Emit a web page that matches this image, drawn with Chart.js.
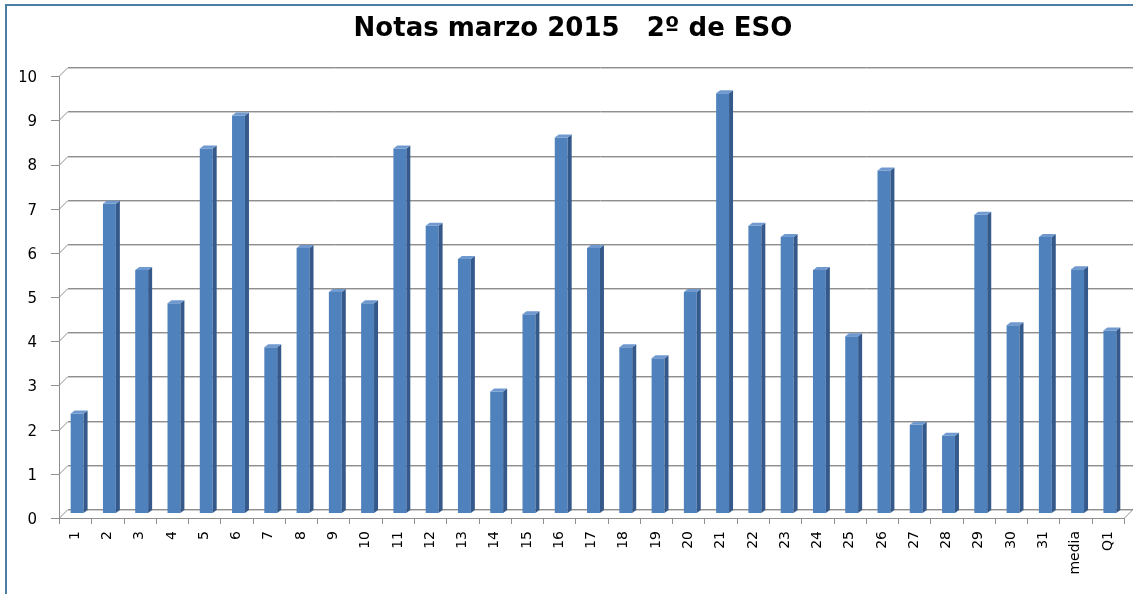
<!DOCTYPE html>
<html lang="es">
<head>
<meta charset="UTF-8">
<title>Notas marzo 2015</title>
<script src="https://cdn.jsdelivr.net/npm/chart.js@4.4.1/dist/chart.umd.min.js"></script>
<style>
  body { margin: 0; background: #fff; }
</style>
</head>
<body>
<canvas id="chart" width="1133" height="594"></canvas>
<script>
// datos
const alumnos = ["1", "2", "3", "4", "5", "6", "7", "8", "9", "10",
  "11", "12", "13", "14", "15", "16", "17", "18", "19", "20",
  "21", "22", "23", "24", "25", "26", "27", "28", "29", "30", "31", "media", "Q1"];
const notas = [2.25, 7, 5.5, 4.75, 8.25, 9, 3.75, 6, 5, 4.75,
  8.25, 6.5, 5.75, 2.75, 4.5, 8.5, 6, 3.75, 3.5, 5,
  9.5, 6.5, 6.25, 5.5, 4, 7.75, 2, 1.75, 6.75, 4.25, 6.25, 5.52, 4.13];
const marcas = [0, 1, 2, 3, 4, 5, 6, 7, 8, 9, 10];

const azul = "#4f81bd";
const azulLado = "#35598a";
const azulTapa = "#6f99cf";

// pared del fondo y suelo con aspecto 3D (como el grafico de Excel)
const marco3d = {
  id: "marco3d",
  beforeDatasetsDraw(chart) {
    const { ctx, scales: { x, y } } = chart;
    const n = alumnos.length;
    const xl = x.getPixelForValue(-0.5), xr = x.getPixelForValue(n - 0.5);
    ctx.save();
    ctx.lineWidth = 1;
    // lineas de la pared del fondo
    marcas.forEach((v) => {
      const py = Math.round(y.getPixelForValue(v)) - 4;
      ctx.strokeStyle = "#8f8f8f";
      ctx.beginPath(); ctx.moveTo(xl + 7, py + 0.5); ctx.lineTo(xr + 7, py + 0.5); ctx.stroke();
      ctx.strokeStyle = "#cdcdcd";
      ctx.beginPath(); ctx.moveTo(xl + 7, py + 1.5); ctx.lineTo(xr + 7, py + 1.5); ctx.stroke();
      // diagonal y marca del eje frontal
      ctx.strokeStyle = "#8f8f8f";
      ctx.beginPath();
      ctx.moveTo(xl - 10, py + 9.5); ctx.lineTo(xl - 2, py + 9.5); ctx.lineTo(xl + 7, py + 0.5);
      ctx.stroke();
    });
    // eje vertical frontal
    const yTop = Math.round(y.getPixelForValue(10)) + 5, yBot = Math.round(y.getPixelForValue(0)) + 5;
    ctx.strokeStyle = "#8f8f8f";
    ctx.beginPath(); ctx.moveTo(xl - 2 + 0.5, yTop); ctx.lineTo(xl - 2 + 0.5, yBot); ctx.stroke();
    // suelo: borde frontal, diagonal derecha
    ctx.beginPath();
    ctx.moveTo(xl - 2, yBot + 0.5); ctx.lineTo(xr - 2, yBot + 0.5); ctx.lineTo(xr + 7, yBot - 8.5);
    ctx.stroke();
    // marcas del eje x
    for (let i = 0; i <= n; i++) {
      const px = Math.round(x.getPixelForValue(i - 0.5)) - 2 + 0.5;
      ctx.beginPath(); ctx.moveTo(px, yBot); ctx.lineTo(px, yBot + 6); ctx.stroke();
    }
    ctx.restore();
  },
  afterDatasetsDraw(chart) {
    const { ctx } = chart;
    const meta = chart.getDatasetMeta(0);
    ctx.save();
    meta.data.forEach((bar) => {
      const { x, y, base, width } = bar.getProps(["x", "y", "base", "width"], true);
      const l = x - width / 2, r = x + width / 2;
      ctx.fillStyle = azulLado;
      ctx.beginPath();
      ctx.moveTo(r, y); ctx.lineTo(r + 4, y - 3); ctx.lineTo(r + 4, base - 3); ctx.lineTo(r, base);
      ctx.closePath(); ctx.fill();
      ctx.fillStyle = azulTapa;
      ctx.beginPath();
      ctx.moveTo(l, y); ctx.lineTo(l + 4, y - 3); ctx.lineTo(r + 4, y - 3); ctx.lineTo(r, y);
      ctx.closePath(); ctx.fill();
    });
    ctx.restore();
  },
  afterDraw(chart) {
    const { ctx } = chart;
    ctx.save();
    ctx.strokeStyle = "#4a7ea3";
    ctx.lineWidth = 2;
    ctx.beginPath(); ctx.moveTo(6, 600); ctx.lineTo(6, 5); ctx.lineTo(1140, 5); ctx.stroke();
    ctx.restore();
  }
};

const ctx = document.getElementById("chart").getContext("2d");
const chart = new Chart(ctx, {
  type: "bar",
  data: {
    labels: alumnos,
    datasets: [{
      label: "Notas",
      data: notas,
      backgroundColor: azul,
      borderWidth: 0,
      barPercentage: 0.4,
      categoryPercentage: 1.0
    }]
  },
  options: {
    responsive: false,
    animation: false,
    layout: { padding: { left: 20, right: 7, top: 0, bottom: 0 } },
    plugins: {
      legend: { display: false },
      tooltip: { enabled: false },
      title: {
        display: true,
        text: "Notas marzo 2015   2º de ESO",
        color: "#000",
        font: { family: "DejaVu Sans", size: 26, weight: "bold" },
        padding: { top: 14, bottom: 26 }
      }
    },
    scales: {
      x: {
        grid: { display: false, drawTicks: false },
        border: { display: false },
        afterFit: (s) => { s.height = 81; s.paddingLeft = 0; s.paddingRight = 0; },
        ticks: {
          color: "#000",
          font: { family: "DejaVu Sans", size: 14 },
          minRotation: 90,
          maxRotation: 90,
          autoSkip: false,
          padding: 18,
          labelOffset: -2
        }
      },
      y: {
        min: 0,
        max: 10,
        grid: { display: false, drawTicks: false },
        border: { display: false },
        afterFit: (s) => { s.width = 41; },
        ticks: {
          stepSize: 1,
          color: "#000",
          font: { family: "DejaVu Sans", size: 15 },
          padding: 24,
          labelOffset: 7
        }
      }
    }
  },
  plugins: [marco3d]
});
</script>
</body>
</html>
